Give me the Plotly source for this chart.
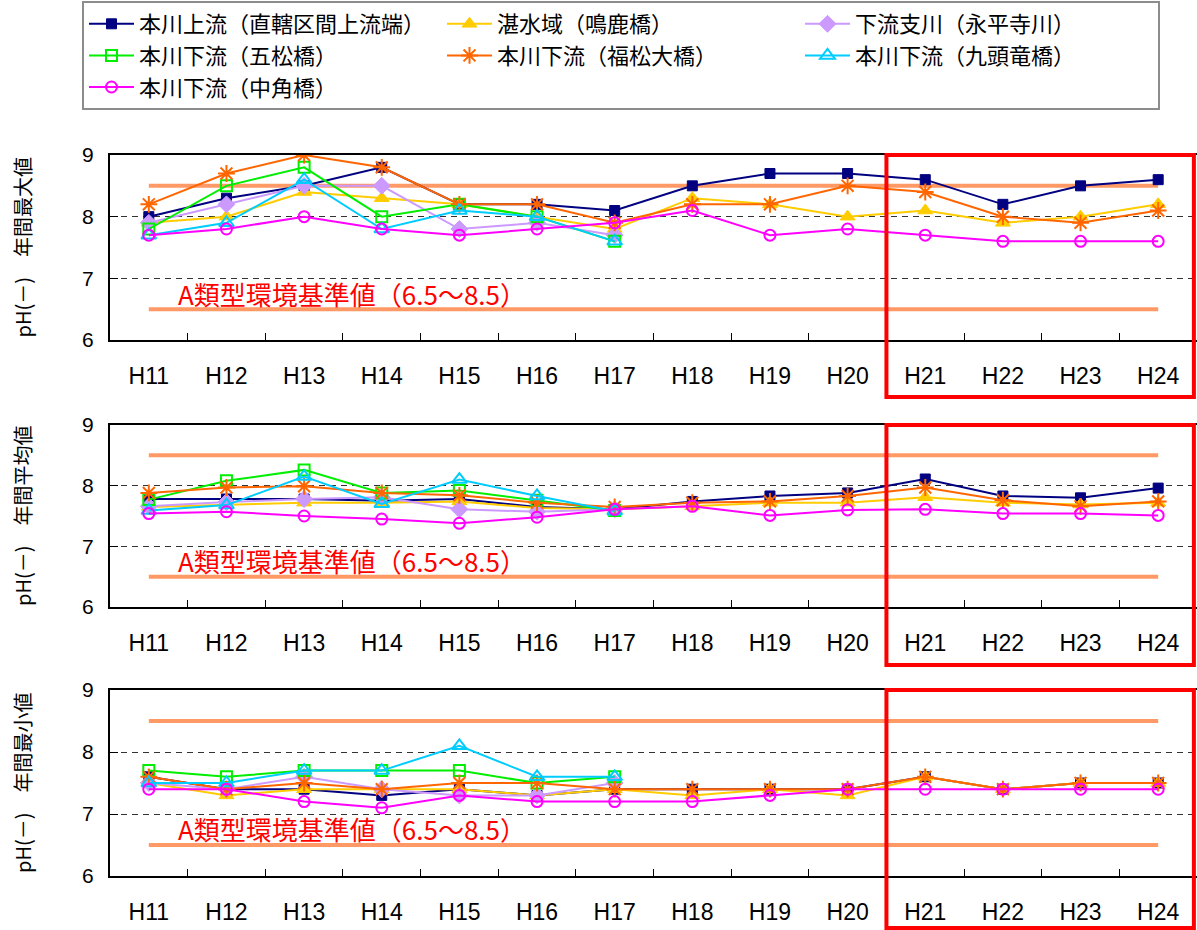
import plotly.graph_objects as go

# ---------------- data ----------------
years = ["H11", "H12", "H13", "H14", "H15", "H16", "H17",
         "H18", "H19", "H20", "H21", "H22", "H23", "H24"]

series_names = [
    "本川上流（直轄区間上流端）",
    "湛水域（鳴鹿橋）",
    "下流支川（永平寺川）",
    "本川下流（五松橋）",
    "本川下流（福松大橋）",
    "本川下流（九頭竜橋）",
    "本川下流（中角橋）",
]

# annual maximum
max_jouryu   = [8.0, 8.3, 8.5, 8.8, 8.2, 8.2, 8.1, 8.5, 8.7, 8.7, 8.6, 8.2, 8.5, 8.6]
max_tansui   = [7.9, 8.0, 8.4, 8.3, 8.2, 8.0, 7.8, 8.3, 8.2, 8.0, 8.1, 7.9, 8.0, 8.2]
max_shisen   = [7.9, 8.2, 8.5, 8.5, 7.8, 7.9, 7.7, None, None, None, None, None, None, None]
max_gomatsu  = [7.8, 8.5, 8.8, 8.0, 8.2, 8.0, 7.6, None, None, None, None, None, None, None]
max_fukumatsu = [8.2, 8.7, 9.0, 8.8, 8.2, 8.2, 7.9, 8.2, 8.2, 8.5, 8.4, 8.0, 7.9, 8.1]
max_kuzuryu  = [7.7, 7.9, 8.6, 7.8, 8.1, 8.0, 7.6, None, None, None, None, None, None, None]
max_nakazuno = [7.7, 7.8, 8.0, 7.8, 7.7, 7.8, 7.9, 8.1, 7.7, 7.8, 7.7, 7.6, 7.6, 7.6]

# annual mean
avg_jouryu   = [7.78, 7.78, 7.78, 7.75, 7.78, 7.65, 7.61, 7.74, 7.83, 7.88, 8.11, 7.83, 7.80, 7.96]
avg_tansui   = [7.65, 7.69, 7.72, 7.72, 7.74, 7.63, 7.61, 7.66, 7.72, 7.72, 7.81, 7.72, 7.69, 7.72]
avg_shisen   = [7.66, 7.73, 7.78, 7.81, 7.61, 7.57, 7.61, None, None, None, None, None, None, None]
avg_gomatsu  = [7.77, 8.08, 8.26, 7.88, 7.92, 7.76, 7.59, None, None, None, None, None, None, None]
avg_fukumatsu = [7.88, 7.97, 7.99, 7.88, 7.84, 7.72, 7.65, 7.72, 7.74, 7.83, 7.97, 7.76, 7.66, 7.74]
avg_kuzuryu  = [7.59, 7.68, 8.15, 7.70, 8.10, 7.83, 7.58, None, None, None, None, None, None, None]
avg_nakazuno = [7.54, 7.57, 7.50, 7.45, 7.38, 7.48, 7.61, 7.66, 7.51, 7.60, 7.61, 7.54, 7.54, 7.51]

# annual minimum
min_jouryu   = [7.6, 7.4, 7.4, 7.3, 7.4, 7.3, 7.4, 7.4, 7.4, 7.4, 7.6, 7.4, 7.5, 7.5]
min_tansui   = [7.5, 7.3, 7.4, 7.4, 7.4, 7.3, 7.4, 7.3, 7.4, 7.3, 7.6, 7.4, 7.5, 7.5]
min_shisen   = [7.5, 7.4, 7.6, 7.4, 7.3, 7.3, 7.5, None, None, None, None, None, None, None]
min_gomatsu  = [7.7, 7.6, 7.7, 7.7, 7.7, 7.5, 7.6, None, None, None, None, None, None, None]
min_fukumatsu = [7.6, 7.4, 7.5, 7.4, 7.5, 7.5, 7.4, 7.4, 7.4, 7.4, 7.6, 7.4, 7.5, 7.5]
min_kuzuryu  = [7.5, 7.5, 7.7, 7.7, 8.1, 7.6, 7.6, None, None, None, None, None, None, None]
min_nakazuno = [7.4, 7.4, 7.2, 7.1, 7.3, 7.2, 7.2, 7.2, 7.3, 7.4, 7.4, 7.4, 7.4, 7.4]

std_upper = 8.5
std_lower = 6.5
std_label = "A類型環境基準値（6.5～8.5）"

panel_titles = ["pH(－)　年間最大値", "pH(－)　年間平均値", "pH(－)　年間最小値"]
panel_data = [
    [max_jouryu, max_tansui, max_shisen, max_gomatsu, max_fukumatsu, max_kuzuryu, max_nakazuno],
    [avg_jouryu, avg_tansui, avg_shisen, avg_gomatsu, avg_fukumatsu, avg_kuzuryu, avg_nakazuno],
    [min_jouryu, min_tansui, min_shisen, min_gomatsu, min_fukumatsu, min_kuzuryu, min_nakazuno],
]
highlight_start, highlight_end = "H21", "H24"

# ---------------- styles ----------------
styles = [
    dict(color="#000080", symbol="square", size=10, fill="#000080"),
    dict(color="#FFCC00", symbol="triangle-up", size=13, fill="#FFCC00"),
    dict(color="#CC99FF", symbol="diamond", size=13, fill="#CC99FF"),
    dict(color="#00EE00", symbol="square-open", size=11, fill=None),
    dict(color="#FF6600", symbol="asterisk-open", size=14, fill=None),
    dict(color="#00CCFF", symbol="triangle-up-open", size=13, fill=None),
    dict(color="#FF00FF", symbol="circle-open", size=11, fill=None),
]

W, H = 1197, 930
plot_left = 110
# panel top/bottom in pixels
panels_px = [(155, 340), (425, 607), (690, 876)]
red_bottom_px = [397, 665, 928]

JP = "Noto Sans CJK JP, Noto Sans CJK SC, sans-serif"
NUM = "Liberation Sans Narrow, Liberation Sans, Arial, sans-serif"

fig = go.Figure()

for p in range(3):
    xa = "x" if p == 0 else f"x{p+1}"
    ya = "y" if p == 0 else f"y{p+1}"
    # standard lines
    for val in (std_upper, std_lower):
        fig.add_trace(go.Scatter(
            x=years, y=[val] * len(years), mode="lines",
            line=dict(color="#FF9966", width=4), showlegend=False,
            hoverinfo="skip", xaxis=xa, yaxis=ya))
    for i, name in enumerate(series_names):
        s = styles[i]
        marker = dict(symbol=s["symbol"], size=s["size"],
                      color=s["fill"] if s["fill"] else s["color"],
                      line=dict(color=s["color"], width=2 if s["fill"] is None else 1))
        fig.add_trace(go.Scatter(
            x=years, y=panel_data[p][i], mode="lines+markers", name=name,
            legendgroup=name, showlegend=(p == 0),
            line=dict(color=s["color"], width=2), marker=marker,
            connectgaps=False, xaxis=xa, yaxis=ya))

layout = dict(
    width=W, height=H,
    margin=dict(l=0, r=0, t=0, b=0),
    paper_bgcolor="white", plot_bgcolor="white",
    showlegend=True,
    legend=dict(
        orientation="h", xref="paper", yref="paper",
        x=82 / W, y=1 - 1 / H, xanchor="left", yanchor="top",
        bordercolor="#8c8c8c", borderwidth=2, bgcolor="white",
        font=dict(family=JP, size=22, color="black"),
        entrywidth=298, itemwidth=45, traceorder="normal",
    ),
    annotations=[], shapes=[],
)

for p in range(3):
    top, bot = panels_px[p]
    dom = [1 - bot / H, 1 - top / H]
    xk = "xaxis" if p == 0 else f"xaxis{p+1}"
    yk = "yaxis" if p == 0 else f"yaxis{p+1}"
    ya = "y" if p == 0 else f"y{p+1}"
    xa = "x" if p == 0 else f"x{p+1}"
    layout[xk] = dict(
        domain=[plot_left / W, 1], anchor=ya, type="category",
        categoryorder="array", categoryarray=years, range=[-0.5, 13.5],
        showline=True, linecolor="black", linewidth=2, mirror=True,
        ticks="inside", tickson="boundaries", ticklen=7, tickcolor="black",
        showgrid=False, zeroline=False, automargin=False,
        tickfont=dict(family=NUM, size=23, color="black"),
        ticklabelstandoff=14,
    )
    layout[yk] = dict(
        domain=dom, anchor=xa, range=[6, 9], tickvals=[6, 7, 8, 9],
        showline=True, linecolor="black", linewidth=2, mirror=True,
        ticks="inside", ticklen=8, tickcolor="black",
        showgrid=True, gridcolor="#333333", griddash="6px,5px", gridwidth=1,
        zeroline=False, automargin=False,
        tickfont=dict(family=NUM, size=21, color="black"),
        ticklabelstandoff=10,
    )
    # y title
    layout["annotations"].append(dict(
        text=panel_titles[p], xref="paper", yref="paper",
        x=22 / W, y=1 - (top + bot) / 2 / H, showarrow=False, textangle=-90,
        font=dict(family=JP, size=20, color="black"),
        xanchor="center", yanchor="middle"))
    # standard label
    layout["annotations"].append(dict(
        text=std_label, xref="paper", yref=ya,
        x=176 / W, y=6.76, showarrow=False, xanchor="left", yanchor="middle",
        font=dict(family=JP, size=26, color="#FF0000")))
    # red highlight box
    i0 = years.index(highlight_start) - 0.5
    i1 = years.index(highlight_end) + 0.46
    layout["shapes"].append(dict(
        type="rect", xref=xa, yref="paper",
        x0=i0, x1=i1, y0=1 - red_bottom_px[p] / H, y1=1 - top / H,
        line=dict(color="#FF0000", width=4), fillcolor="rgba(0,0,0,0)",
        layer="above"))

fig.update_layout(**layout)
fig.write_html("out.html", config={"displayModeBar": False},
               post_script="document.body.style.margin='0';document.body.style.overflow='hidden';")
